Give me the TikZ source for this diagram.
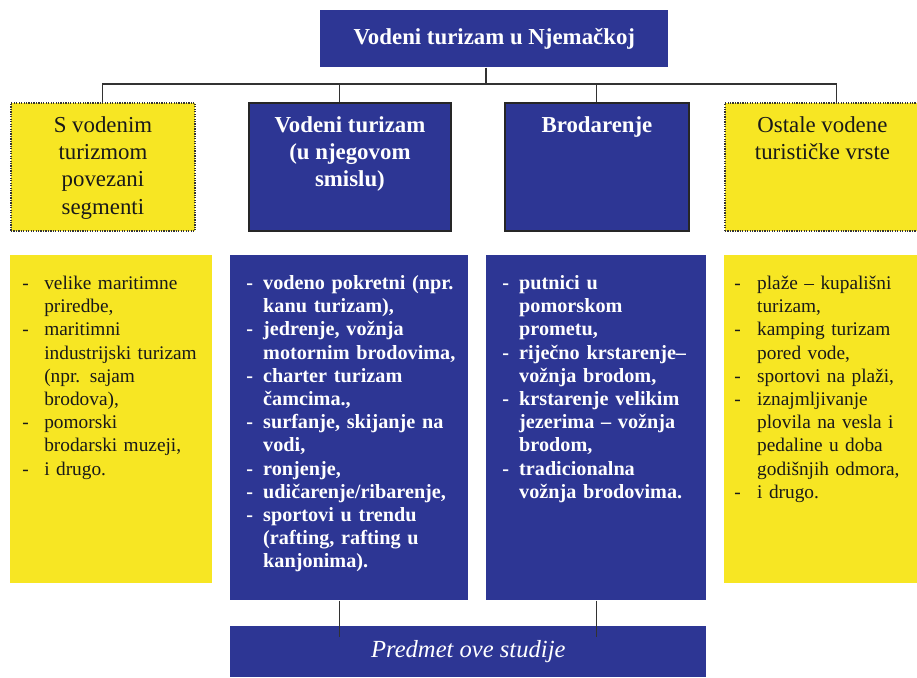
\documentclass[tikz,border=0pt]{standalone}
\usepackage{fontspec}
\setmainfont{Liberation Serif}
\usetikzlibrary{positioning}
\definecolor{plavo}{RGB}{45,54,148}
\definecolor{zuto}{RGB}{247,230,35}
\definecolor{crta}{RGB}{50,50,50}
\newlength{\uvlaka}
\newcommand{\stavka}{\par\noindent\hangindent=\uvlaka\hangafter=1\makebox[\uvlaka][l]{-}\strut}

\begin{document}
\begin{tikzpicture}[x=0.02cm, y=-0.02cm,
  plava/.style = {fill=plavo, anchor=north west, inner sep=0pt},
  okvir/.style = {plava, draw=black!85, line width=1.1pt},
  zuta/.style = {fill=zuto, anchor=north west, inner sep=0pt},
  tockasta/.style = {zuta, draw=black!80, line width=1.1pt, dash pattern=on 0.7pt off 0.7pt},
  naslov/.style = {anchor=north, align=center, inner sep=0pt, text=black!90, font=\fontsize{13}{15.5}\selectfont},
  bijeli/.style = {text=white, font=\bfseries\fontsize{13}{15.5}\selectfont},
  lista/.style = {anchor=north west, inner sep=0pt, text width=#1, text=black!90, font=\fontsize{11}{13.2}\selectfont},
  plavalista/.style = {text=white, font=\bfseries\fontsize{11.5}{13.2}\selectfont},
  uvlaka/.style = {execute at begin node={\setlength{\uvlaka}{#1}}},
  linija/.style = {draw=crta, line width=0.6pt}]
\useasboundingbox (0,0) rectangle (917,677);

% vrh
\node[plava, minimum width=6.96cm, minimum height=1.14cm, text=white, font=\bfseries\fontsize{13}{15}\selectfont] (vrh) at (320,10) {Vodeni turizam u Njemačkoj};

% drugi red
\node[tockasta, minimum width=3.68cm, minimum height=2.56cm] (seg) at (10,102) {};
\node[okvir, minimum width=4.04cm, minimum height=2.56cm] (vt) at (248,102) {};
\node[okvir, minimum width=3.68cm, minimum height=2.56cm] (brod) at (504,102) {};
\node[tockasta, minimum width=3.9cm, minimum height=2.56cm] (ost) at (724,102) {};

\node[naslov] (seg-t) at ([shift={(0,11)}]seg.north) {\strut S vodenim\\turizmom\\povezani\\segmenti};
\node[naslov, bijeli] (vt-t) at ([shift={(0,11)}]vt.north) {\strut Vodeni turizam\\(u njegovom\\smislu)};
\node[naslov, bijeli] (brod-t) at ([shift={(0,11)}]brod.north) {\strut Brodarenje};
\node[naslov] (ost-t) at ([shift={(0,11)}]ost.north) {\strut Ostale vodene\\turističke vrste};

% treci red
\node[zuta, minimum width=4.04cm, minimum height=6.56cm] (l1) at (10,255) {};
\node[plava, minimum width=4.76cm, minimum height=6.9cm] (l2) at (230,255) {};
\node[plava, minimum width=4.4cm, minimum height=6.9cm] (l3) at (486,255) {};
\node[zuta, minimum width=3.86cm, minimum height=6.56cm] (l4) at (724,255) {};

\node[lista=3.9cm, uvlaka=12.5pt] (l1-t) at ([shift={(12,11)}]l1.north west) {%
\stavka velike maritimne\newline priredbe,
\stavka maritimni\newline industrijski turizam\newline (npr. sajam\newline brodova),
\stavka pomorski\newline brodarski muzeji,
\stavka i drugo.\par};
\node[lista=4.6cm, plavalista, uvlaka=9.6pt] (l2-t) at ([shift={(16,11)}]l2.north west) {%
\stavka vodeno pokretni (npr.\newline kanu turizam),
\stavka jedrenje, vožnja\newline motornim brodovima,
\stavka charter turizam\newline čamcima.,
\stavka surfanje, skijanje na\newline vodi,
\stavka ronjenje,
\stavka udičarenje/ribarenje,
\stavka sportovi u trendu\newline (rafting, rafting u\newline kanjonima).\par};
\node[lista=4.2cm, plavalista, uvlaka=9.6pt] (l3-t) at ([shift={(16,11)}]l3.north west) {%
\stavka putnici u\newline pomorskom\newline prometu,
\stavka riječno krstarenje--\newline vožnja brodom,
\stavka krstarenje velikim\newline jezerima -- vožnja\newline brodom,
\stavka tradicionalna\newline vožnja brodovima.\par};
\node[lista=3.6cm, uvlaka=13pt] (l4-t) at ([shift={(10,11)}]l4.north west) {%
\stavka plaže -- kupališni\newline turizam,
\stavka kamping turizam\newline pored vode,
\stavka sportovi na plaži,
\stavka iznajmljivanje\newline plovila na vesla i\newline pedaline u doba\newline godišnjih odmora,
\stavka i drugo.\par};

% dno
\node[plava, minimum width=9.52cm, minimum height=1.02cm, text=white, font=\itshape\fontsize{14}{16}\selectfont] (predmet) at (230,626) {Predmet ove studije};

% veze
\coordinate (sab) at (486,84);
\coordinate (vt-k) at ([xshift=-0.2cm]vt.north);
\coordinate (l2-k) at ([xshift=-0.2cm]l2.south);
\coordinate (p1) at (l2-k |- predmet.north);
\coordinate (p2) at (l3.south |- predmet.north);
\draw[linija] (vrh.south -| sab) -- (sab);
\draw[linija] (seg.north) -- (seg.north |- sab) -| ([xshift=0.29cm]ost.north);
\draw[linija] (vt-k) -- (vt-k |- sab);
\draw[linija] (brod.north) -- (brod.north |- sab);
\draw[linija] (l2-k) -- ([yshift=-0.22cm]p1);
\draw[linija] (l3.south) -- ([yshift=-0.22cm]p2);
\end{tikzpicture}
\end{document}
